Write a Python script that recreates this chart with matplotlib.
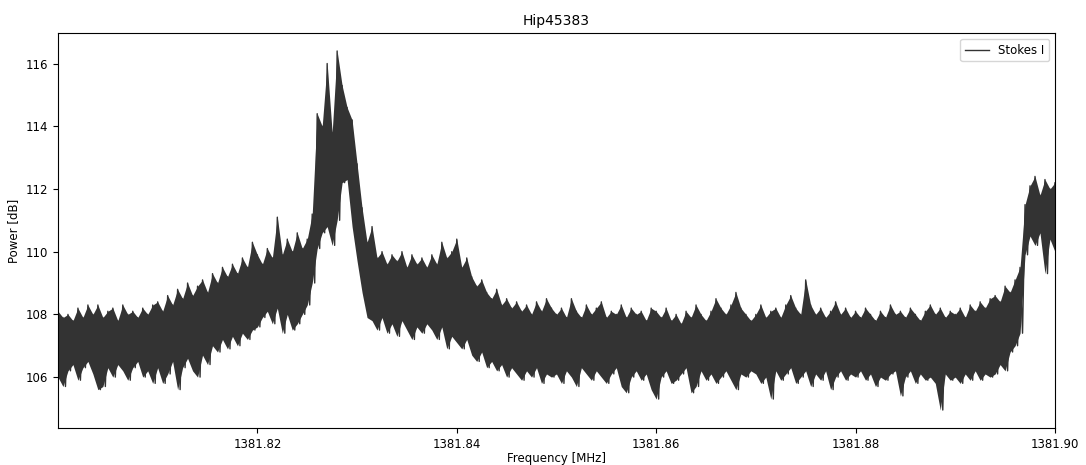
import numpy as np
import matplotlib
matplotlib.use("Agg")
import matplotlib.pyplot as plt

# %%
# Spectrum of Hip45383, read off the picture as upper / lower envelope every 0.0005 MHz
f_start = 1381.800
f_step = 0.0005

upper = [
    108.1, 107.9, 108.0, 107.8, 108.2, 107.9, 108.3, 108.0, 108.3, 107.9,
    108.1, 108.2, 107.8, 108.3, 108.0, 108.1, 107.9, 108.2, 108.0, 108.3,
    108.4, 108.1, 108.6, 108.3, 108.8, 108.5, 109.0, 108.6, 108.9, 109.1,
    108.7, 109.3, 109.0, 109.5, 109.2, 109.6, 109.3, 109.8, 109.5, 110.3,
    109.9, 109.6, 110.1, 109.8, 111.1, 109.9, 110.4, 110.0, 110.6, 110.1,
    110.4, 111.2, 114.4, 114.0, 116.0, 113.8, 116.4, 115.3, 114.6, 114.2,
    112.8, 111.4, 110.3, 110.8, 109.8, 110.0, 109.6, 109.9, 109.7, 110.0,
    109.5, 109.9, 109.6, 109.8, 109.5, 109.9, 109.6, 110.3, 109.8, 110.0,
    110.4, 109.5, 109.8, 109.2, 108.9, 109.1, 108.7, 108.5, 108.8, 108.3,
    108.5, 108.2, 108.4, 108.1, 108.3, 108.0, 108.4, 108.1, 108.5, 108.2,
    108.0, 108.2, 107.9, 108.5, 108.1, 107.9, 108.3, 108.0, 108.2, 108.4,
    107.9, 108.1, 108.0, 108.3, 107.9, 108.2, 108.0, 108.1, 107.8, 108.2,
    108.1, 107.9, 108.2, 107.8, 108.0, 107.7, 108.1, 107.9, 108.3, 108.0,
    107.8, 108.1, 108.5, 108.2, 108.0, 108.3, 108.7, 108.2, 108.0, 107.8,
    108.0, 108.3, 107.9, 108.1, 108.2, 107.9, 108.3, 108.6, 108.2, 108.0,
    109.1, 108.3, 108.0, 108.2, 107.9, 108.1, 108.4, 108.0, 108.2, 107.9,
    108.1, 107.9, 108.2, 108.0, 107.8, 108.1, 107.9, 108.3, 108.0, 108.1,
    107.9, 108.2, 108.0, 107.8, 108.1, 108.3, 108.0, 108.2, 107.9, 108.1,
    108.0, 108.2, 107.9, 108.3, 108.1, 108.4, 108.2, 108.5, 108.6, 108.4,
    108.9, 108.7, 109.1, 109.5, 111.5, 112.1, 112.4, 111.8, 112.3, 112.0,
    112.2,
]

lower = [
    106.0, 105.7, 106.2, 106.4, 105.9, 106.3, 106.5, 106.1, 105.6, 105.7,
    106.3, 106.0, 106.4, 106.2, 105.9, 106.3, 106.5, 106.0, 106.2, 105.8,
    106.3, 105.8, 106.1, 106.5, 105.6, 106.3, 106.6, 106.2, 106.0, 106.7,
    106.4, 107.0, 106.8, 107.2, 106.9, 107.3, 107.0, 107.4, 107.2, 107.5,
    107.6, 107.9, 108.1, 107.7, 108.2, 107.4, 108.0, 107.5, 107.7, 108.0,
    108.3, 109.0, 110.1, 110.6, 110.8, 110.2, 111.0, 112.2, 112.3, 110.8,
    109.7, 108.7, 107.9, 107.8, 107.5, 107.9, 107.4, 107.7, 107.3, 107.8,
    107.5, 107.2, 107.6, 107.4, 107.7, 107.5, 107.2, 107.6, 106.9, 107.3,
    107.1, 106.9, 107.2, 106.7, 106.5, 106.8, 106.3, 106.5, 106.2, 106.4,
    106.0, 106.3, 106.1, 105.9, 106.2, 106.0, 106.3, 105.8, 106.1, 106.0,
    106.1, 105.8, 106.2, 106.0, 105.7, 106.3, 106.1, 105.9, 106.2, 106.0,
    105.8, 106.1, 106.3, 105.7, 105.5, 106.0, 106.2, 105.9, 106.1, 105.6,
    105.3, 106.0, 106.2, 105.8, 105.9, 106.1, 106.3, 105.5, 105.7, 106.2,
    105.9, 106.1, 105.8, 106.0, 106.2, 105.9, 105.6, 106.1, 106.0, 106.2,
    106.1, 105.8, 106.0, 105.3, 106.2, 105.9, 106.1, 106.3, 105.8, 106.0,
    106.2, 105.7, 106.1, 105.9, 106.2, 105.6, 106.0, 106.2, 105.9, 106.1,
    106.0, 106.2, 105.9, 106.1, 105.7, 106.0, 105.9, 106.1, 106.2, 105.4,
    106.0, 106.2, 105.8, 106.1, 105.9, 106.0, 105.8, 104.95, 106.1, 105.9,
    106.0, 105.8, 106.1, 105.9, 106.2, 105.9, 106.1, 106.0, 106.1, 106.4,
    106.2, 106.8, 107.0, 107.4, 109.9, 110.5, 110.2, 110.6, 109.3, 110.4,
    110.0,
]

# %%
freq = f_start + f_step * np.arange(len(upper))

# trace goes up and down between the two envelopes
x = np.empty(2 * len(freq))
y = np.empty(2 * len(freq))
x[0::2] = freq
x[1::2] = freq + f_step / 2
y[0::2] = upper
y[1::2] = lower

plt.rcParams['font.size'] = 8.5

fig = plt.figure(figsize=(10.86, 4.65), dpi=100)
ax = fig.add_axes([0.0534, 0.0796, 0.918, 0.8494])

# the noise band is far denser than the envelope samples, so fill it
ax.fill_between(freq, lower, upper, color='#333333', linewidth=0)
ax.plot(x, y, color='#333333', linewidth=1.0, label='Stokes I')

ax.set_xlim(1381.80, 1381.90)
ax.set_xticks([1381.82, 1381.84, 1381.86, 1381.88, 1381.90])
ax.ticklabel_format(axis='x', useOffset=False)
ax.set_xlabel('Frequency [MHz]', labelpad=1)
ax.set_ylabel('Power [dB]')
ax.set_title('Hip45383', fontsize=10)
ax.legend(loc='upper right')

plt.savefig('out.png', dpi=100)
